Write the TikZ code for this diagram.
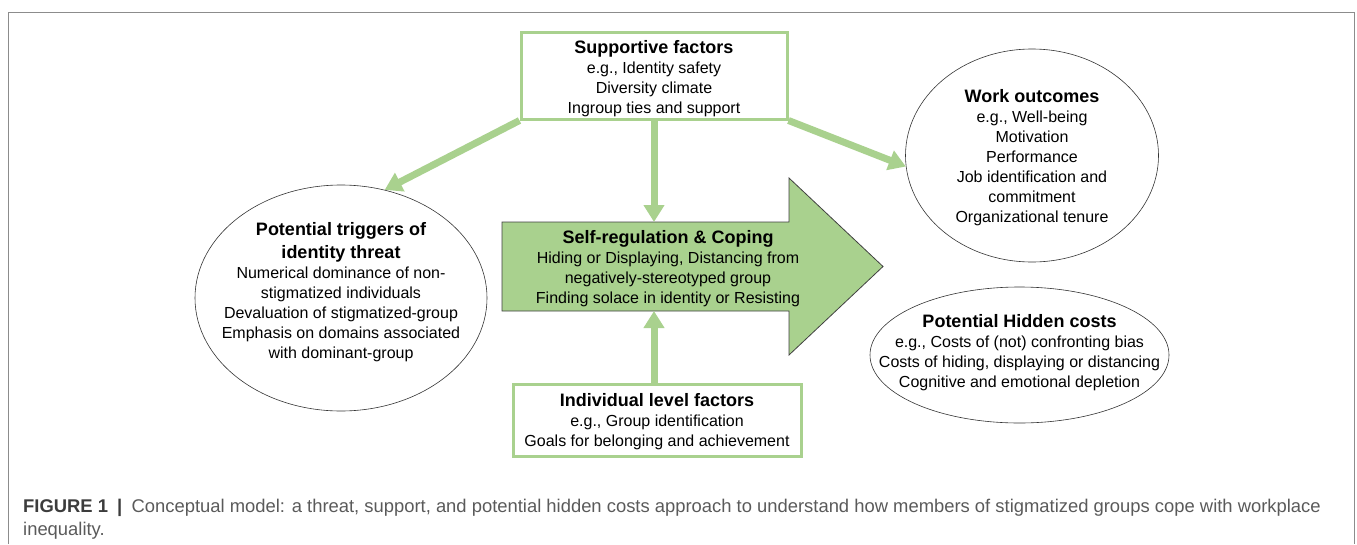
\documentclass[tikz,border=0pt]{standalone}
\usepackage{fontspec}
\setmainfont{Liberation Sans}
\usetikzlibrary{shapes.geometric,arrows.meta}
\definecolor{lgreen}{HTML}{A9D18E}
\definecolor{capgray}{HTML}{5A5A5A}
\definecolor{capdark}{HTML}{3C3C3C}
\definecolor{framegray}{HTML}{8C8C8C}
\newcommand\ttl[1]{{\fontsize{18}{21}\selectfont\bfseries #1}}
\begin{document}
\begin{tikzpicture}[x=1pt,y=-1pt,
  txt/.style={font=\fontsize{16}{20}\selectfont, align=center, text=black, inner sep=0pt},
  gbox/.style={draw=lgreen, line width=3pt, fill=white, inner sep=0pt},
  oval/.style={ellipse, draw=black!80, line width=0.6pt, inner sep=0pt},
  garrow/.style={draw=lgreen, line width=7pt, -{Triangle[length=17pt,width=20pt]}},
  bigarrow/.style={fill=lgreen, draw=black!75, line width=0.8pt},
  captxt/.style={anchor=base west, inner sep=0pt, text=capgray, font=\fontsize{18.4}{22}\selectfont}
]
\useasboundingbox (0,0) rectangle (1357,544);
\draw[framegray, line width=1pt] (8,544) -- (8,12) -- (1354,12) -- (1354,544);

% big arrow
\draw[bigarrow] (502,222) -- (789,222) -- (789,178) -- (883,266.5) -- (789,355) -- (789,311) -- (502,311) -- cycle;
\coordinate (ctop) at (654,222);
\coordinate (cbot) at (654,311);
\node[txt] (cope) at (668,269) {\ttl{Self-regulation \& Coping}\\Hiding or Displaying, Distancing from\\negatively-stereotyped group\\Finding solace in identity or Resisting};

% boxes
\node[gbox, minimum width=266pt, minimum height=87pt] (sup) at (654,75.5) {};
\node[txt] (suptxt) at (654,79) {\ttl{Supportive factors}\\e.g., Identity safety\\Diversity climate\\Ingroup ties and support};
\node[gbox, minimum width=288pt, minimum height=72pt] (ind) at (657,420) {};
\node[txt] (indtxt) at (657,421.5) {\ttl{Individual level factors}\\e.g., Group identification\\Goals for belonging and achievement};

% ellipses
\node[oval, minimum width=292pt, minimum height=226pt] (trig) at (341,298) {};
\node[txt] (trigtxt) at (341,292) {\ttl{Potential triggers of}\\[3pt]\ttl{identity threat}\\Numerical dominance of non-\\stigmatized individuals\\Devaluation of stigmatized-group\\Emphasis on domains associated\\with dominant-group};
\node[oval, minimum width=253pt, minimum height=213pt] (work) at (1032,155.5) {};
\node[txt] (worktxt) at (1032,158) {\ttl{Work outcomes}\\e.g., Well-being\\Motivation\\Performance\\Job identification and\\commitment\\Organizational tenure};
\node[oval, minimum width=299pt, minimum height=136pt] (hid) at (1019.5,355) {};
\node[txt] (hidtxt) at (1019.5,353) {\ttl{Potential Hidden costs}\\e.g., Costs of (not) confronting bias\\Costs of hiding, displaying or distancing\\Cognitive and emotional depletion};

% connectors
\draw[garrow] (sup.south) -- (ctop);
\draw[garrow] (sup.south west) -- (trig.68);
\draw[garrow] (sup.south east) -- (work.185);
\draw[garrow] (cbot |- ind.north) -- (cbot);

% caption
\node[captxt] (cap1) at (23,512) {{\color{capdark}\bfseries FIGURE 1\enspace|}\enspace Conceptual model: a threat, support, and potential hidden costs approach to understand how members of stigmatized groups cope with workplace};
\node[captxt] (cap2) at (23,535) {inequality.};
\end{tikzpicture}
\end{document}
